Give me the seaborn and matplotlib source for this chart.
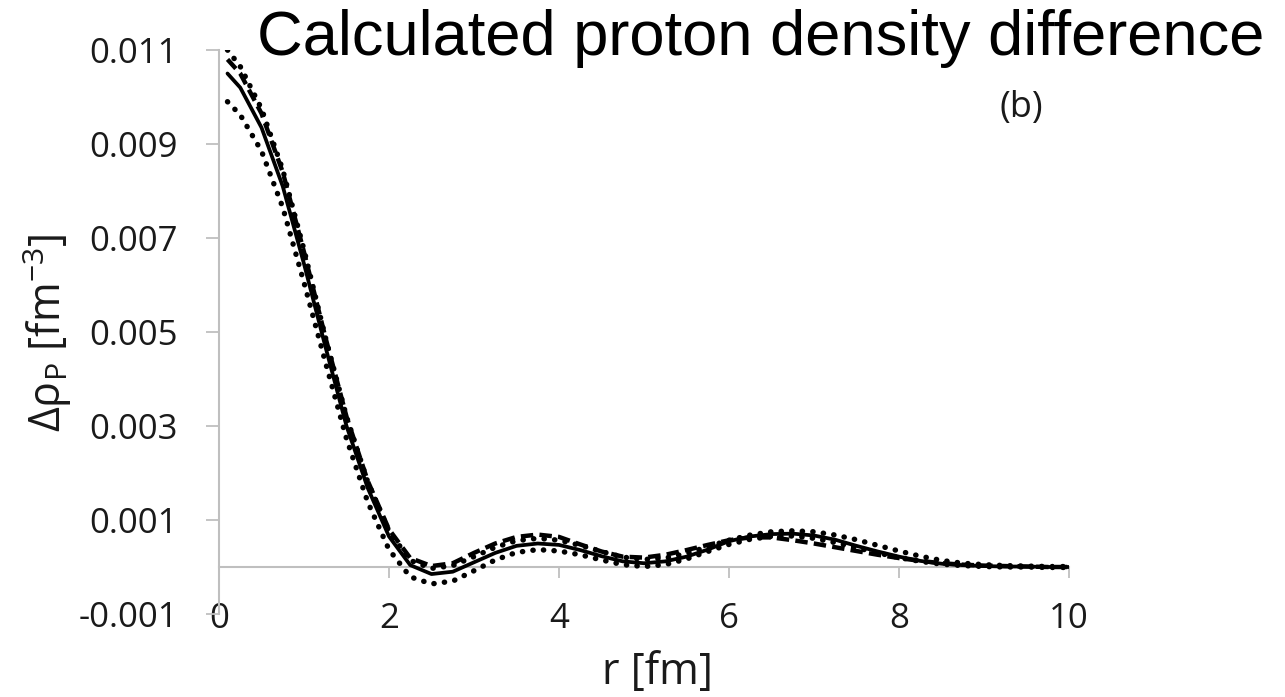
import numpy as np
import pandas as pd
import matplotlib
matplotlib.use("Agg")
import matplotlib.pyplot as plt
import seaborn as sns

# ---- data ----
r_fm = [0.1, 0.25, 0.5, 0.75, 1.0, 1.25, 1.5, 1.75, 2.0, 2.25, 2.5, 2.75, 3.0, 3.25,
        3.5, 3.75, 4.0, 4.25, 4.5, 4.75, 5.0, 5.25, 5.5, 5.75, 6.0, 6.25, 6.5, 6.75,
        7.0, 7.25, 7.5, 7.75, 8.0, 8.25, 8.5, 8.75, 9.0, 9.25, 9.5, 9.75, 10.0]

solid_vals = [0.01050, 0.01020, 0.00935, 0.00810, 0.00645, 0.00470, 0.00300, 0.00168,
              0.00065, 0.00004, -0.00015, -0.00010, 0.00010, 0.00030, 0.00045, 0.00050,
              0.00047, 0.00036, 0.00023, 0.00012, 0.00008, 0.00012, 0.00022, 0.00037,
              0.00055, 0.00065, 0.00070, 0.00071, 0.00067, 0.00058, 0.00045, 0.00033,
              0.00022, 0.00013, 0.00007, 0.00004, 0.00002, 0.00001, 0.00001, 0.0, 0.0]

dashed_vals = [0.01080, 0.01050, 0.00965, 0.00840, 0.00670, 0.00490, 0.00320, 0.00183,
               0.00080, 0.00019, 0.00002, 0.00008, 0.00030, 0.00050, 0.00064, 0.00069,
               0.00064, 0.00048, 0.00033, 0.00022, 0.00020, 0.00026, 0.00036, 0.00047,
               0.00057, 0.00063, 0.00063, 0.00057, 0.00050, 0.00042, 0.00034, 0.00026,
               0.00019, 0.00013, 0.00008, 0.00005, 0.00003, 0.00002, 0.00001, 0.0, 0.0]

upper_dot_vals = [0.01100, 0.01065, 0.00975, 0.00845, 0.00675, 0.00490, 0.00320, 0.00181,
                  0.00076, 0.00014, -0.00003, 0.00003, 0.00022, 0.00042, 0.00056, 0.00061,
                  0.00057, 0.00046, 0.00033, 0.00021, 0.00016, 0.00019, 0.00029, 0.00043,
                  0.00057, 0.00068, 0.00075, 0.00077, 0.00075, 0.00068, 0.00058, 0.00046,
                  0.00034, 0.00023, 0.00014, 0.00008, 0.00005, 0.00003, 0.00002, 0.00001,
                  0.00001]

lower_dot_vals = [0.00990, 0.00962, 0.00885, 0.00765, 0.00605, 0.00437, 0.00273, 0.00138,
                  0.00037, -0.00021, -0.00036, -0.00030, -0.00008, 0.00015, 0.00031, 0.00037,
                  0.00034, 0.00026, 0.00015, 0.00005, 0.00001, 0.00005, 0.00017, 0.00033,
                  0.00048, 0.00059, 0.00065, 0.00066, 0.00061, 0.00052, 0.00041, 0.00030,
                  0.00020, 0.00012, 0.00006, 0.00003, 0.00001, 0.0, 0.0, -0.00001, -0.00001]

x_ticks = [0, 2, 4, 6, 8, 10]
y_ticks = [-0.001, 0.001, 0.003, 0.005, 0.007, 0.009, 0.011]
y_tick_labels = ["-0.001", "0.001", "0.003", "0.005", "0.007", "0.009", "0.011"]

title_text = "Calculated proton density difference"
panel_text = "(b)"
x_label = "r [fm]"
y_label = r"Δρ$_\mathregular{P}$ [fm$^\mathregular{-3}$]"

# ---- style ----
sns.set_style("white")
plt.rcParams["font.family"] = ["Open Sans", "DejaVu Sans"]
plt.rcParams["mathtext.fontset"] = "custom"
plt.rcParams["mathtext.rm"] = "Open Sans"

W, H = 1285, 697
fig = plt.figure(figsize=(W / 100, H / 100), dpi=100)
ax_left, ax_right = 219 / W, 1069 / W
ax_bottom, ax_top = 1 - 614 / H, 1 - 50 / H
ax = fig.add_axes([ax_left, ax_bottom, ax_right - ax_left, ax_top - ax_bottom])

df = pd.DataFrame({"r": r_fm, "solid": solid_vals, "dashed": dashed_vals,
                   "dot_hi": upper_dot_vals, "dot_lo": lower_dot_vals})

dot_style = (0, (0.05, 1.9))
sns.lineplot(data=df, x="r", y="dot_lo", ax=ax, color="black", lw=3.9,
             linestyle=dot_style, dash_capstyle="round", zorder=3)
sns.lineplot(data=df, x="r", y="dot_hi", ax=ax, color="black", lw=3.9,
             linestyle=dot_style, dash_capstyle="round", zorder=3)
sns.lineplot(data=df, x="r", y="dashed", ax=ax, color="black", lw=3.2,
             linestyle=(0, (2.8, 1.4)), zorder=4)
sns.lineplot(data=df, x="r", y="solid", ax=ax, color="black", lw=2.7,
             linestyle="-", zorder=5)

ax.set_xlim(0, 10)
ax.set_ylim(-0.001, 0.011)

grey = "#bfbfbf"
for s in ["top", "right"]:
    ax.spines[s].set_visible(False)
ax.spines["left"].set_color(grey)
ax.spines["left"].set_linewidth(1.5)
ax.spines["bottom"].set_position(("data", 0))
ax.spines["bottom"].set_color(grey)
ax.spines["bottom"].set_linewidth(1.5)

ax.set_xticks(x_ticks)
ax.set_xticklabels([str(v) for v in x_ticks])
ax.set_yticks(y_ticks)
ax.set_yticklabels(y_tick_labels)

ax.tick_params(axis="y", left=True, direction="out", length=9.5, width=1.3, color=grey,
               pad=20, labelsize=25, labelcolor="#1a1a1a")
ax.tick_params(axis="x", bottom=True, direction="out", length=8, width=1.3, color=grey,
               pad=17, labelsize=25, labelcolor="#1a1a1a")

ax.set_xlabel(x_label, fontsize=31, color="#1a1a1a", va="center", ha="center")
ax.xaxis.set_label_coords((657 - 219) / 850, (614 - 673) / 564)
ax.set_ylabel(y_label, fontsize=31, color="#1a1a1a", va="center", ha="center")
ax.yaxis.set_label_coords((47 - 219) / 850, (614 - 333) / 564)

fig.text(761 / W, 1 - 38 / H, title_text, family="Liberation Sans", fontsize=45.5,
         ha="center", va="center", color="black")
fig.text(1021 / W, 1 - 108 / H, panel_text, fontsize=26, ha="center", va="center",
         color="#1a1a1a")

fig.savefig("out.png", dpi=100)
